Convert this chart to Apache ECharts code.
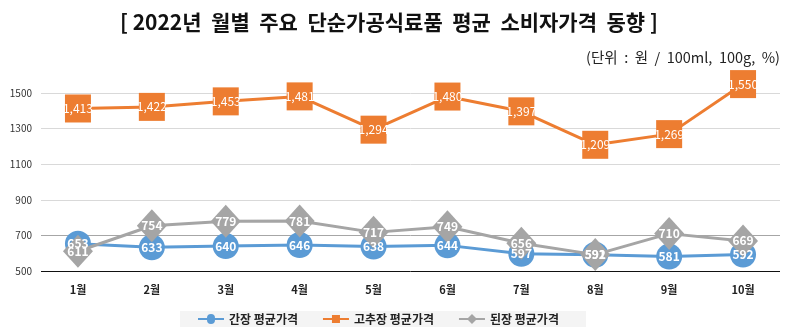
<!DOCTYPE html>
<html><head><meta charset="utf-8">
<script src="https://cdn.jsdelivr.net/npm/echarts@6/dist/echarts.min.js"></script>
<style>html,body{margin:0;padding:0;background:#fff}#c{width:793px;height:336px}</style>
</head><body><div id="c"></div>
<script>
const categories = ['1월','2월','3월','4월','5월','6월','7월','8월','9월','10월'];
const soySauce = [653,633,640,646,638,644,597,591,581,592];
const gochujang = [1413,1422,1453,1481,1294,1480,1397,1209,1269,1550];
const doenjang = [611,754,779,781,717,749,656,592,710,669];
const seriesNames = ['간장 평균가격','고추장 평균가격','된장 평균가격'];
const yTicks = [500,700,900,1100,1300,1500];

const font = '"Noto Sans CJK KR", "Noto Sans", sans-serif';
const chart = echarts.init(document.getElementById('c'));
const fmt = p => p.value.toLocaleString('en-US');
const colors = ['#5b9bd5','#ed7d31','#a5a5a5'];
const icons = [
  'path://M0,4 L9,4 A4,4 0 1,1 17,4 L26,4 L26,6 L17,6 A4,4 0 1,1 9,6 L0,6 Z',
  'path://M0,4 L9,4 L9,1 L17,1 L17,4 L26,4 L26,6 L17,6 L17,9 L9,9 L9,6 L0,6 Z',
  'path://M0,4 L9,4 L13,0 L17,4 L26,4 L26,6 L17,6 L13,10 L9,6 L0,6 Z'
];
const dataSets = [soySauce, gochujang, doenjang];
const symbols = ['circle','rect','diamond'];
const sizes = [26, [26,28], [30,33]];
const lineSeries = dataSets.map((d,i)=>({
  name:seriesNames[i], type:'line', data:d, clip:false, z:2+i,
  symbol:symbols[i], symbolSize:sizes[i], itemStyle:{color:colors[i]},
  lineStyle:{width:3, color:colors[i]}, label:{show:false}
}));
const labelSeries = dataSets.map((d,i)=>({
  name:'lbl'+i, type:'line', data:d, clip:false, z:10+i,
  symbol:'circle', symbolSize:2, showSymbol:true,
  itemStyle:{color:'rgba(0,0,0,0)'}, lineStyle:{width:0, opacity:0},
  label:{show:true, position:'inside', color:'#fff', fontSize:12,
         fontWeight: i===1 ? 'normal' : 'bold', formatter:fmt}
}));
chart.setOption({
  animation:false,
  textStyle:{fontFamily:font},
  title:[
    {text:'[ 2022년  월별  주요  단순가공식료품  평균  소비자가격  동향 ]', left:115, top:7,
     textStyle:{fontSize:21, fontWeight:'bold', color:'#111', fontFamily:font}},
    {text:'(단위  :  원  /  100ml,  100g,  %)', right:8, top:45,
     textStyle:{fontSize:14.5, fontWeight:'normal', color:'#222', fontFamily:font}}
  ],
  legend:{bottom:9, left:180, itemWidth:26, itemHeight:10, itemGap:25,
    backgroundColor:'#f4f4f4', padding:[2,27,2,18],
    textStyle:{fontSize:12, color:'#222', fontWeight:'bold'},
    data:seriesNames.map((n,i)=>({name:n, icon:icons[i], itemStyle:{color:colors[i]}}))},
  grid:{left:41, right:13, top:93, bottom:65, containLabel:false},
  xAxis:{type:'category', data:categories, boundaryGap:true,
    axisLine:{show:false}, axisTick:{show:false},
    axisLabel:{fontSize:11, fontWeight:'bold', color:'#222', margin:13}},
  yAxis:{type:'value', min:500, max:1500, interval:200,
    axisLine:{show:false}, axisTick:{show:false},
    axisLabel:{fontSize:10, color:'#333', margin:9, formatter:v=>yTicks.includes(v)?String(v):''},
    splitLine:{lineStyle:{color:['#111','#a6a6a6','#d9d9d9','#d9d9d9','#d9d9d9','#d9d9d9']}}},
  series: lineSeries.concat(labelSeries)
});
</script></body></html>
